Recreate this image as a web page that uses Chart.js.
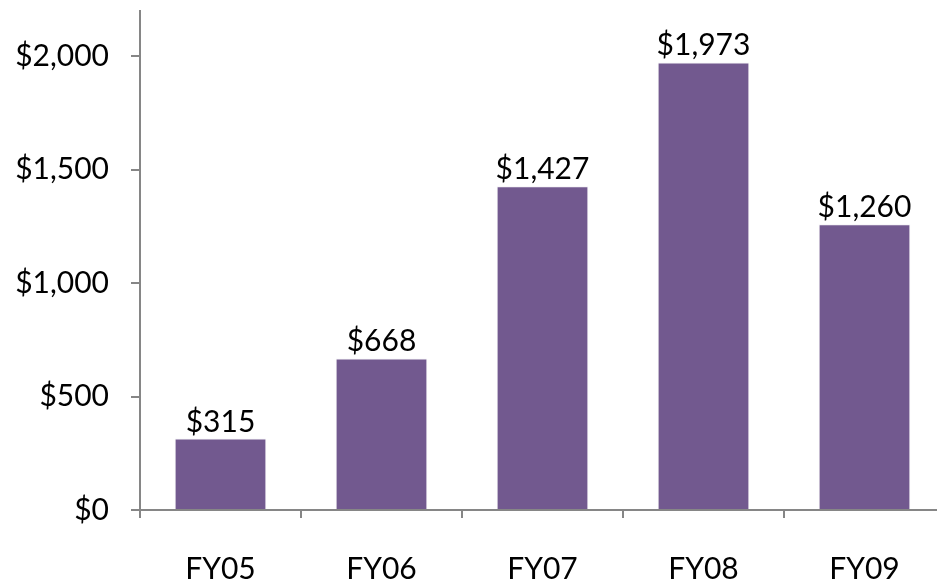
<!DOCTYPE html>
<html>
<head>
<meta charset="utf-8">
<script src="https://cdn.jsdelivr.net/npm/chart.js@4"></script>
<style>
  html, body { margin: 0; padding: 0; background: #fff; overflow: hidden; }
  #wrap { width: 937px; height: 584px; overflow: hidden; position: relative; }
  #wrap canvas { position: absolute; left: 0; top: 0; }
</style>
</head>
<body>
<div id="wrap"><canvas id="barChart" width="945" height="600"></canvas></div>
<script>
const years = ['FY05', 'FY06', 'FY07', 'FY08', 'FY09'];
const amounts = [315, 668, 1427, 1973, 1260];
const yTicks = [0, 500, 1000, 1500, 2000];

const BAR_COLOR = '#72598f';
const AXIS_COLOR = '#868686';
const FONT = 'Lato, "Open Sans", sans-serif';

function money(v) {
  return '$' + v.toLocaleString('en-US');
}

// value labels above each bar, on a white box
const barLabels = {
  id: 'barLabels',
  afterDatasetsDraw(chart) {
    const ctx = chart.ctx;
    const meta = chart.getDatasetMeta(0);
    ctx.save();
    ctx.font = '30px ' + FONT;
    ctx.textAlign = 'center';
    ctx.textBaseline = 'alphabetic';
    meta.data.forEach((bar, i) => {
      const txt = money(amounts[i]);
      const w = ctx.measureText(txt).width;
      ctx.fillStyle = '#fff';
      ctx.fillRect(bar.x - w / 2 - 2, bar.y - 32, w + 4, 30);
      ctx.fillStyle = '#000';
      ctx.fillText(txt, bar.x, bar.y - 7);
    });
    ctx.restore();
  }
};

const ctx = document.getElementById('barChart').getContext('2d');
new Chart(ctx, {
  type: 'bar',
  data: {
    labels: years,
    datasets: [{
      data: amounts,
      backgroundColor: BAR_COLOR,
      borderColor: '#f4f3f6',
      borderWidth: 1,
      categoryPercentage: 1,
      barPercentage: 0.57
    }]
  },
  options: {
    responsive: false,
    animation: false,
    layout: { padding: { top: 11, right: 0, left: 0, bottom: 0 } },
    plugins: {
      legend: { display: false },
      tooltip: { enabled: false }
    },
    scales: {
      x: {
        grid: {
          display: true,
          drawOnChartArea: false,
          drawTicks: true,
          tickLength: 8,
          color: AXIS_COLOR,
          lineWidth: 2
        },
        border: { color: AXIS_COLOR, width: 2 },
        ticks: {
          color: '#000',
          font: { family: FONT, size: 30 },
          padding: 33
        },
        afterFit(scale) { scale.height = 90; }
      },
      y: {
        min: 0,
        max: 2200,
        grid: {
          drawOnChartArea: false,
          drawTicks: true,
          tickLength: 9,
          color: AXIS_COLOR,
          lineWidth: 2
        },
        border: { color: AXIS_COLOR, width: 2 },
        ticks: {
          color: '#000',
          font: { family: FONT, size: 30 },
          padding: 22,
          callback: v => money(v)
        },
        afterBuildTicks(scale) {
          scale.ticks = yTicks.map(v => ({ value: v }));
        },
        afterFit(scale) {
          scale.width = 140;
          scale.paddingTop = 0;
          scale.paddingBottom = 0;
        }
      }
    }
  },
  plugins: [barLabels]
});
</script>
</body>
</html>
